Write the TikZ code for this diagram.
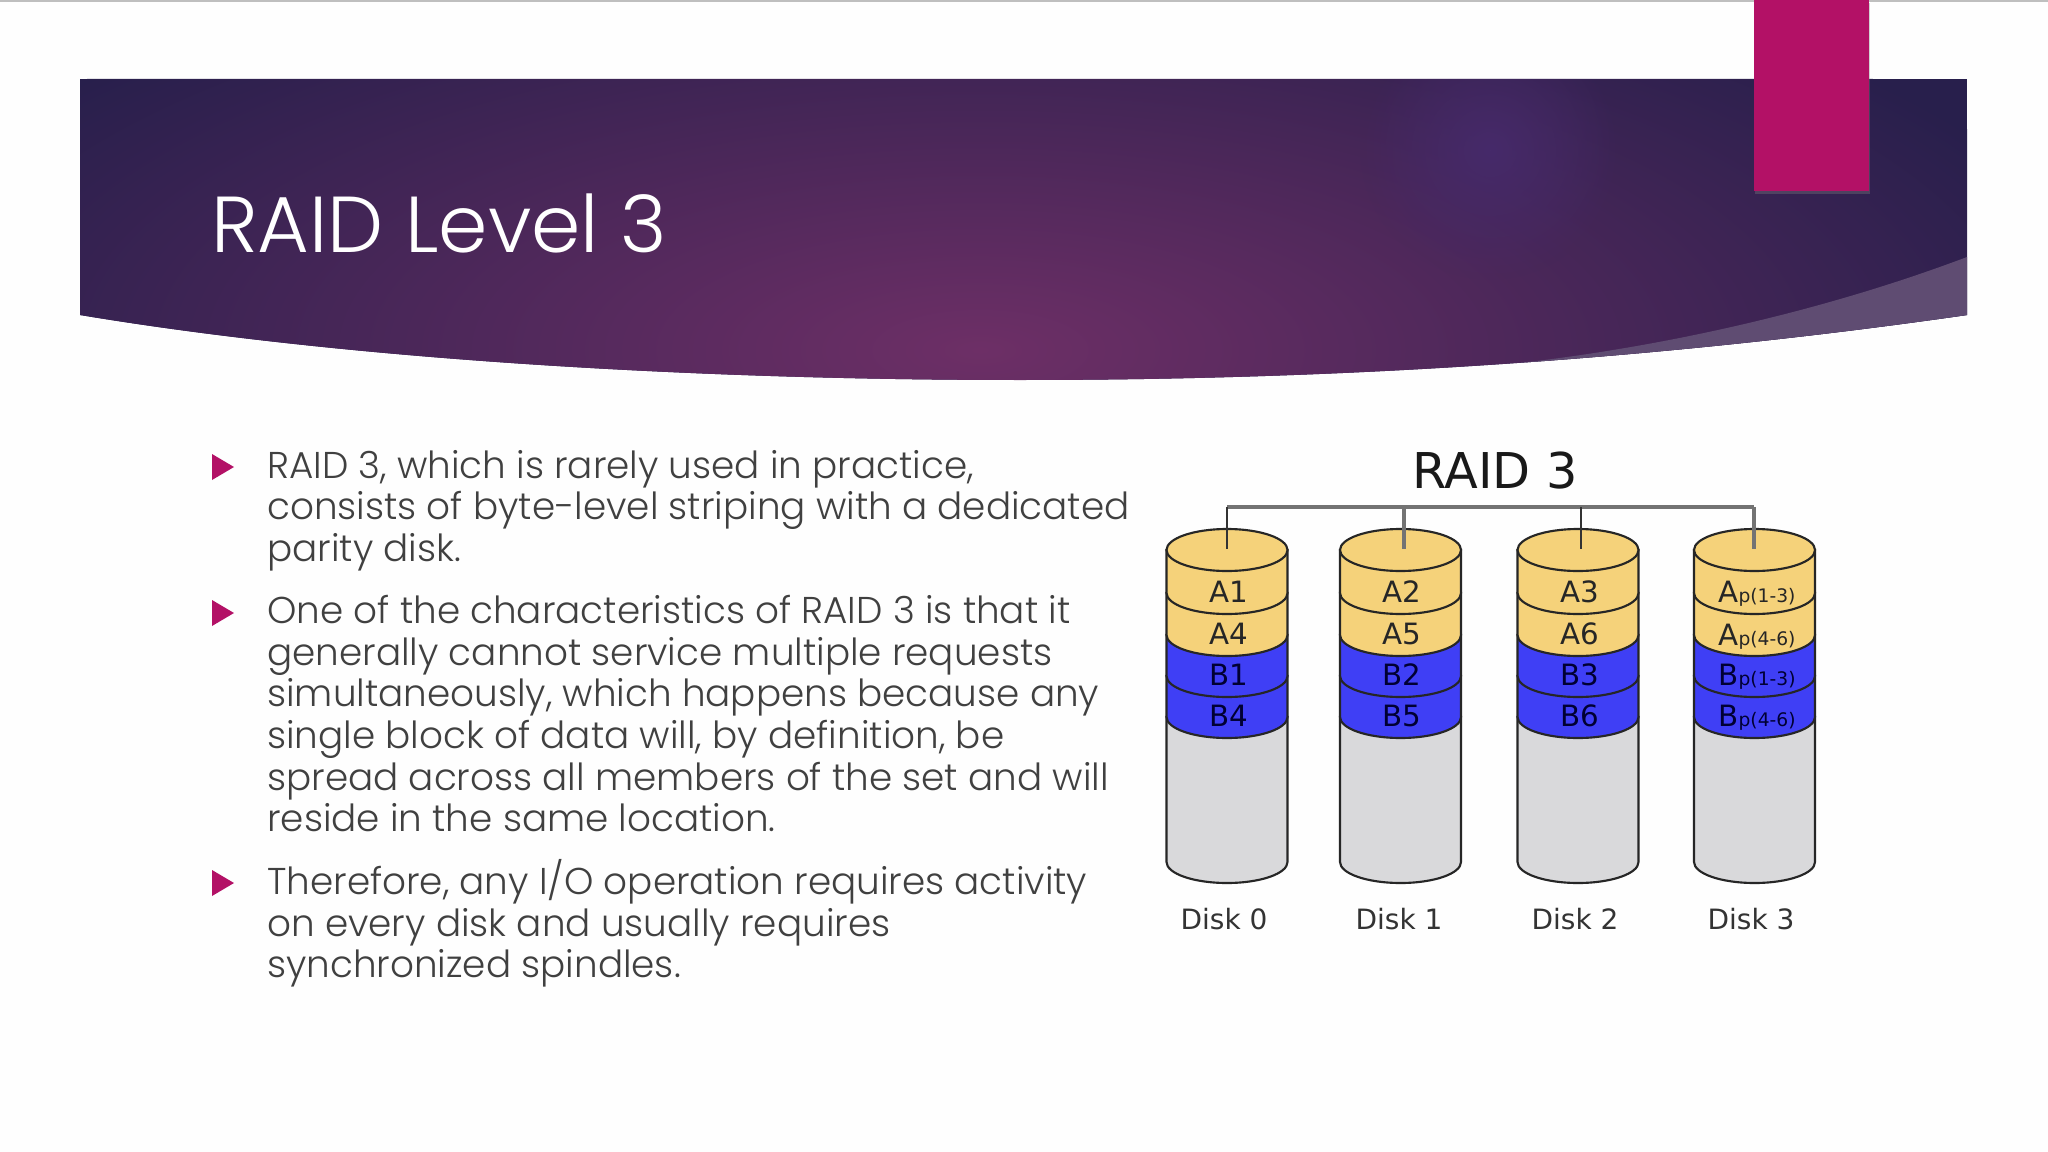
\documentclass[tikz,border=0pt]{standalone}
\usepackage{fontspec}
\setmainfont{Poppins}[UprightFont={* Light}]
\newfontfamily\diskfont{DejaVu Sans}
\usetikzlibrary{fadings,shadows}
\definecolor{bgColor}{HTML}{fefefe}
\definecolor{fgColor}{HTML}{404040}
\definecolor{pinkColor}{HTML}{b31166}
\definecolor{bannerDark}{HTML}{281f4c}
\definecolor{bannerMid}{HTML}{6d2f66}
\definecolor{bannerGlow}{HTML}{462a6a}
\definecolor{swooshColor}{HTML}{5f4c72}
\definecolor{amberColor}{HTML}{f5d27a}
\definecolor{blueColor}{HTML}{3f3ff5}
\definecolor{greyColor}{HTML}{d9d9db}
\tikzfading[name=glowfade, inner color=transparent!0, outer color=transparent!100]
\tikzset{
	bodyline/.style={text=fgColor, anchor=base west, inner sep=0pt, font=\fontsize{28}{34}\selectfont},
	bullet/.style={fill=pinkColor, draw=none},
	disklayer/.style={draw=black!85, line width=1.6pt},
	cell/.style={inner sep=0pt, anchor=base, font=\diskfont\fontsize{22}{25}\selectfont},
	disklabel/.style={inner sep=0pt, anchor=base, text=black!80, font=\diskfont\fontsize{21}{25}\selectfont},
	busline/.style={draw=black!55, line width=3pt},
	dropline/.style={draw=black!80, line width=1.6pt}
}
% one slice of a disk: centre x, top y, bottom y, colour
\newcommand{\drawlayer}[4]{
	\draw [disklayer, fill=#4] (#1-60.5,#2) -- (#1-60.5,#3) arc [start angle=180, end angle=0, x radius=60.5, y radius=21] -- (#1+60.5,#2) -- cycle;
}
\newcommand{\parity}[2]{#1{\fontsize{14}{16}\selectfont p(#2)}}

\begin{document}
\begin{tikzpicture}[x=0.75pt,y=0.75pt,yscale=-1,xscale=1]
		\useasboundingbox (0,0) rectangle (2048,1152);
		\fill [bgColor] (0,0) rectangle (2048,1152);
		\draw [black!25, line width=1.5pt] (0,1) -- (2048,1);

		% Banner
		\begin{scope}
			\clip (80,79) -- (1967,79) -- (1967,315) .. controls (1620,365) and (1300,380) .. (1020,380) .. controls (700,380) and (350,360) .. (80,315) -- cycle;
			\fill [bannerDark] (80,79) rectangle (1967,380);
			\shade [inner color=bannerMid, outer color=bannerDark] (980,350) ellipse (1150 and 430);
			\fill [bannerGlow, path fading=glowfade] (1490,150) circle (130);
			\fill [swooshColor] (1967,257) .. controls (1800,320) and (1620,355) .. (1470,368) -- (1470,400) -- (1967,400) -- cycle;
		\end{scope}

		% Tab
		\fill [pinkColor, drop shadow={shadow xshift=1pt, shadow yshift=-2pt, opacity=0.35}] (1754,0) rectangle (1869,191);

		% Title
		\node (title) at (211,252) [anchor=base west, inner sep=0pt, text=white, font=\fontsize{59.5}{64}\selectfont] {RAID Level 3};

		% Bullets
		\fill [bullet] (212,454) -- (234,467) -- (212,480) -- cycle;
		\fill [bullet] (212,600) -- (234,613) -- (212,626) -- cycle;
		\fill [bullet] (212,870) -- (234,883) -- (212,896) -- cycle;

		% Text Node
		\node (lineA) at (267,478) [bodyline] {RAID 3, which is rarely used in practice,};
		\node (lineB) at (267,519) [bodyline] {consists of byte-level striping with a dedicated};
		\node (lineC) at (267,561) [bodyline] {parity disk.};
		\node (lineD) at (267,623) [bodyline] {One of the characteristics of RAID 3 is that it};
		\node (lineE) at (267,665) [bodyline] {generally cannot service multiple requests};
		\node (lineF) at (267,706) [bodyline] {simultaneously, which happens because any};
		\node (lineG) at (267,748) [bodyline] {single block of data will, by definition, be};
		\node (lineH) at (267,790) [bodyline] {spread across all members of the set and will};
		\node (lineI) at (267,831) [bodyline] {reside in the same location.};
		\node (lineJ) at (267,894) [bodyline] {Therefore, any I/O operation requires activity};
		\node (lineK) at (267,936) [bodyline] {on every disk and usually requires};
		\node (lineL) at (267,977) [bodyline] {synchronized spindles.};

		% Disks
		\foreach \cx in {1227,1400.5,1578,1754.5} {
			\drawlayer{\cx}{717}{862}{greyColor}
			\drawlayer{\cx}{676}{717}{blueColor}
			\drawlayer{\cx}{635}{676}{blueColor}
			\drawlayer{\cx}{593}{635}{amberColor}
			\drawlayer{\cx}{550}{593}{amberColor}
			\draw [disklayer, fill=amberColor] (\cx,550) ellipse (60.5 and 21);
		}

		% Bus
		\coordinate (bus0) at (1227,507);
		\coordinate (bus1) at (1404,507);
		\coordinate (bus2) at (1581,507);
		\coordinate (bus3) at (1754,507);
		\coordinate (top0) at (1227,549);
		\coordinate (top1) at (1404,549);
		\coordinate (top2) at (1581,549);
		\coordinate (top3) at (1754,549);
		\draw [busline] (bus0) -- (bus3);
		\draw [dropline] (bus0) -- (top0);
		\draw [busline] (bus1) -- (top1);
		\draw [dropline] (bus2) -- (top2);
		\draw [busline] (bus3) -- (top3);

		% Labels
		\node (raid) at (1495,488) [anchor=base, inner sep=0pt, text=black!90, font=\diskfont\fontsize{37}{42}\selectfont] {RAID 3};
		\foreach \x/\y/\t in {1229/602/A1, 1229/644/A4, 1402/602/A2, 1402/644/A5, 1580/602/A3, 1580/644/A6} {
			\node (cell\t) at (\x,\y) [cell, text=black!85] {\t};
		}
		\foreach \x/\y/\t in {1229/685/B1, 1229/726/B4, 1402/685/B2, 1402/726/B5, 1580/685/B3, 1580/726/B6} {
			\node (cell\t) at (\x,\y) [cell, text=blue!20!black] {\t};
		}
		\node (cellAa) at (1757,602) [cell, text=black!85] {\parity{A}{1-3}};
		\node (cellAb) at (1757,645) [cell, text=black!85] {\parity{A}{4-6}};
		\node (cellBa) at (1757,685) [cell, text=blue!20!black] {\parity{B}{1-3}};
		\node (cellBb) at (1757,726) [cell, text=blue!20!black] {\parity{B}{4-6}};
		\foreach \x/\n in {1224/0, 1399/1, 1575/2, 1751/3} {
			\node (disk\n) at (\x,929) [disklabel] {Disk \n};
		}
\end{tikzpicture}
\end{document}
